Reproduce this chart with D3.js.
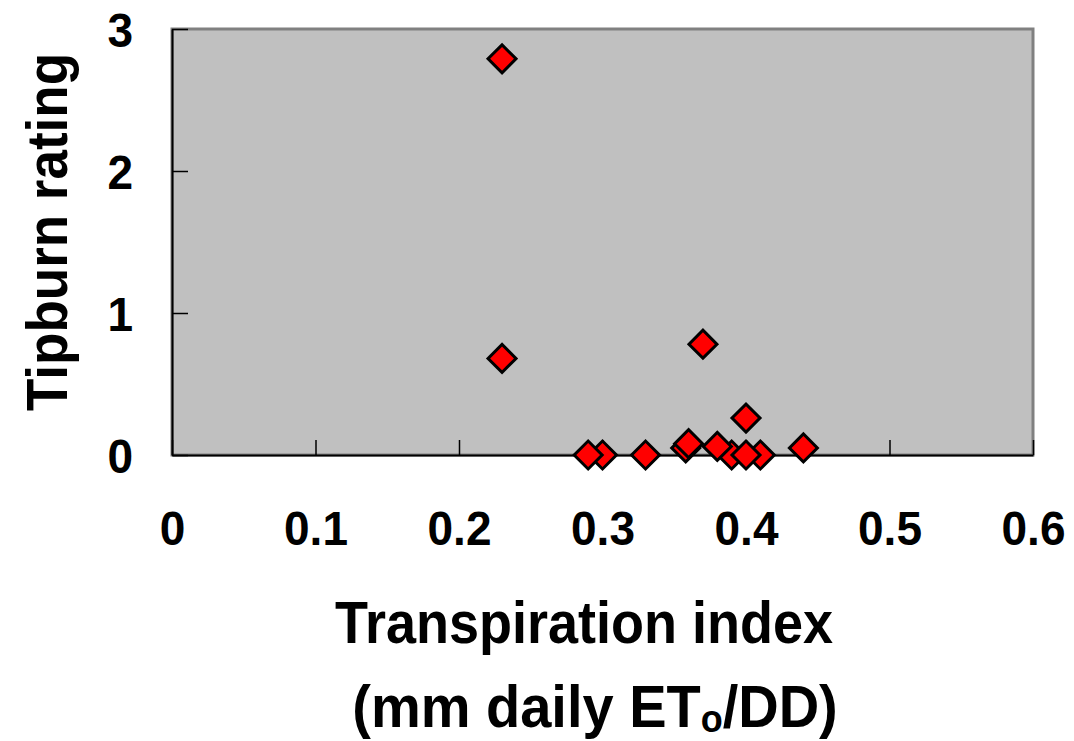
<!DOCTYPE html>
<html>
<head>
<meta charset="utf-8">
<script src="https://cdn.jsdelivr.net/npm/d3@7"></script>
<style>
  html, body { margin: 0; padding: 0; background: #ffffff; }
  svg { display: block; }
  text { font-family: "Liberation Sans", Arial, sans-serif; font-weight: bold; fill: #000; }
</style>
</head>
<body>
<svg id="chart" width="1074" height="741"></svg>
<script>
// ---- data (drawing order: back to front) ----
const transpirationIndex = [0.30, 0.29, 0.33, 0.358, 0.36, 0.39, 0.41, 0.38, 0.40, 0.40, 0.37, 0.44, 0.23, 0.23];
const tipburnRating      = [0.00, 0.00, 0.00, 0.05,  0.08, 0.00, 0.00, 0.06, 0.00, 0.26, 0.78, 0.05, 2.79, 0.68];
const xTickValues = [0, 0.1, 0.2, 0.3, 0.4, 0.5, 0.6];
const xTickLabels = ["0", "0.1", "0.2", "0.3", "0.4", "0.5", "0.6"];
const yTickValues = [0, 1, 2, 3];
const yTickLabels = ["0", "1", "2", "3"];
const xTitle = "Transpiration index";
const xSubtitleParts = ["(mm daily ET", "o", "/DD)"];
const yTitle = "Tipburn rating";

// ---- layout ----
const plot = { left: 172, top: 29, right: 1033, bottom: 455 };
const svg = d3.select("#chart");

const x = d3.scaleLinear().domain([0, 0.6]).range([plot.left, plot.right]);
const y = d3.scaleLinear().domain([0, 3]).range([plot.bottom, plot.top]);

// plot area
svg.append("rect")
  .attr("x", plot.left).attr("y", plot.top)
  .attr("width", plot.right - plot.left).attr("height", plot.bottom - plot.top)
  .attr("fill", "#c0c0c0").attr("stroke", "#808080").attr("stroke-width", 3);

// x axis (ticks inward)
const xAxis = d3.axisBottom(x)
  .tickValues(xTickValues)
  .tickSizeInner(-15).tickSizeOuter(0)
  .tickFormat((d, i) => xTickLabels[i]);
const gx = svg.append("g").attr("transform", `translate(0,${plot.bottom})`).call(xAxis);
gx.select(".domain").attr("stroke", "#000").attr("stroke-width", 2);
gx.selectAll(".tick line").attr("stroke", "#000").attr("stroke-width", 1.5);
gx.selectAll(".tick text")
  .attr("y", 0).attr("dy", 0)
  .attr("transform", "translate(0,90) scale(1,1.06)")
  .style("font-size", "46px").style("font-family", "Liberation Sans, Arial, sans-serif").style("font-weight", "bold");

// y axis (ticks inward)
const yAxis = d3.axisLeft(y)
  .tickValues(yTickValues)
  .tickSizeInner(-16).tickSizeOuter(0)
  .tickFormat((d, i) => yTickLabels[i]);
const gy = svg.append("g").attr("transform", `translate(${plot.left},0)`).call(yAxis);
gy.select(".domain").attr("stroke", "#000").attr("stroke-width", 2);
gy.selectAll(".tick line").attr("stroke", "#000").attr("stroke-width", 1.5);
gy.selectAll(".tick text")
  .attr("x", 0).attr("dy", "0.36em")
  .attr("transform", "translate(-39,0) scale(1,1.06)")
  .style("font-size", "46px").style("font-family", "Liberation Sans, Arial, sans-serif").style("font-weight", "bold");

// markers
const diamond = d3.symbol().type(d3.symbolSquare).size(392);
svg.append("g").selectAll("path")
  .data(transpirationIndex.map((v, i) => ({ x: v, y: tipburnRating[i] })))
  .join("path")
  .attr("d", diamond)
  .attr("transform", d => `translate(${x(d.x)},${y(d.y)}) rotate(45)`)
  .attr("fill", "#ff0000").attr("stroke", "#000").attr("stroke-width", 3)
  .attr("stroke-linejoin", "miter");

// titles
svg.append("text")
  .attr("transform", "translate(584,643) scale(1,1.09)")
  .attr("text-anchor", "middle")
  .style("font-size", "54px")
  .text(xTitle);

const sub = svg.append("text")
  .attr("transform", "translate(595,727) scale(1,1.07)")
  .attr("text-anchor", "middle")
  .style("font-size", "56px");
sub.append("tspan").text(xSubtitleParts[0]);
sub.append("tspan").attr("dy", 5).style("font-size", "36px").text(xSubtitleParts[1]);
sub.append("tspan").attr("dy", -5).text(xSubtitleParts[2]);

svg.append("text")
  .attr("transform", `translate(67,232) rotate(-90) scale(1,1.09)`)
  .attr("text-anchor", "middle")
  .style("font-size", "53px")
  .text(yTitle);
</script>
</body>
</html>
